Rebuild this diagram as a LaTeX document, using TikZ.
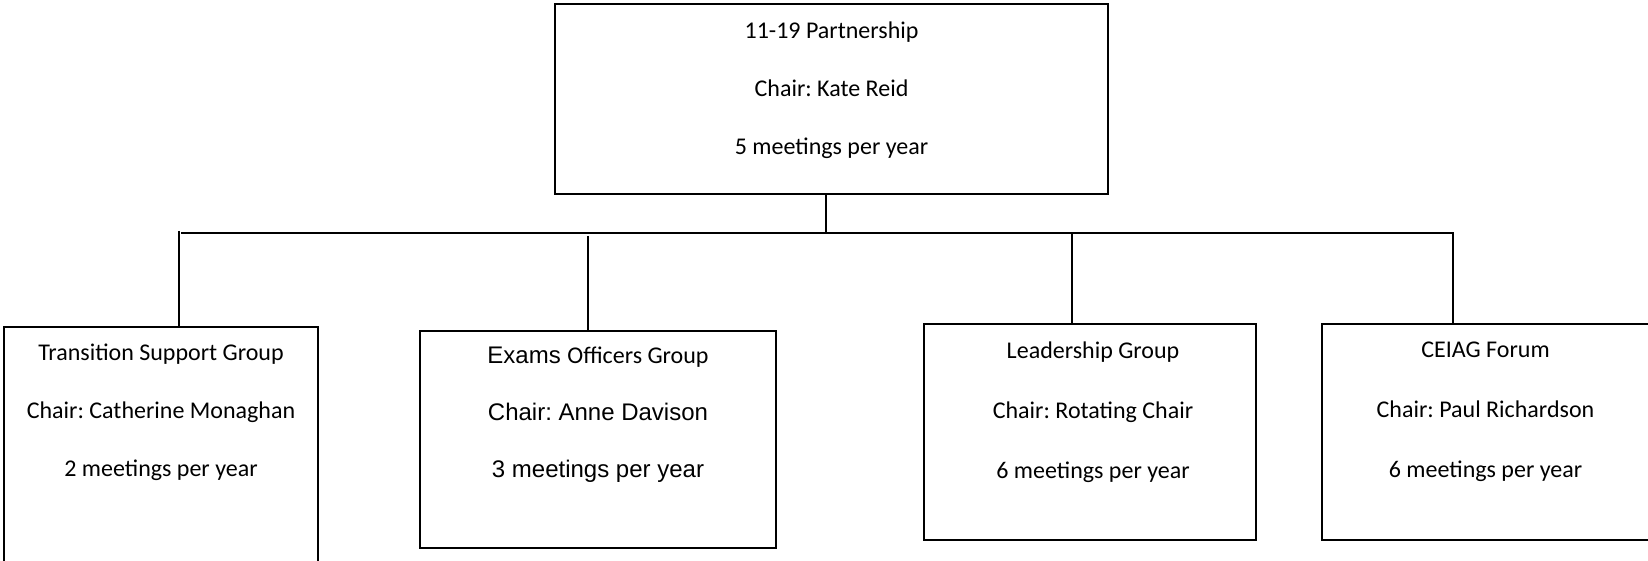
\documentclass[tikz,border=0pt]{standalone}
\usepackage{fontspec}
\setmainfont{Carlito}
\newfontfamily\arialfont{Liberation Sans}
\usetikzlibrary{positioning}
\frenchspacing
\tikzset{box/.style={draw, line width=2pt, inner sep=0pt, anchor=north west},
lbl/.style={align=center, inner sep=0pt, font=\fontsize{24}{58}\selectfont}}
\begin{document}
\begin{tikzpicture}[x=1pt,y=-1pt, line width=2pt]
\useasboundingbox (0,0) rectangle (1648,561);
\clip (0,0) rectangle (1648,561);
% boxes
\node[box, minimum width=553pt, minimum height=190pt] (top) at (554,3) {};
\node[box, minimum width=314pt, minimum height=280pt] (trans) at (3,326) {};
\node[box, minimum width=356pt, minimum height=217pt] (exams) at (419,330) {};
\node[box, minimum width=332pt, minimum height=216pt] (lead) at (923,323) {};
\node[box, minimum width=379pt, minimum height=216pt] (ceiag) at (1321,323) {};
% texts
\node[lbl, below=18pt of top.north] (topT) {11-19 Partnership\\Chair: Kate Reid\\5 meetings per year};
\node[lbl, below=17pt of trans.north] (transT) {Transition Support Group\\Chair: Catherine Monaghan\\2 meetings per year};
\node[lbl, below=16pt of exams.north, font=\arialfont\fontsize{24}{57}\selectfont] (examsT) {Exams {\rmfamily\fontsize{24}{57}\selectfont Officers Group}\\Chair: Anne Davison\\3 meetings per year};
\node[lbl, below=18pt of lead.north, xshift=3pt, font=\fontsize{24}{60}\selectfont] (leadT) {Leadership Group\\Chair: Rotating Chair\\6 meetings per year};
\node[lbl, below=18pt of ceiag.north, xshift=-26pt, font=\fontsize{24}{60}\selectfont] (ceiagT) {CEIAG Forum\\Chair: Paul Richardson\\6 meetings per year};
% connectors
\coordinate (jT) at (826,234);
\coordinate (bL) at (181,233);
\coordinate (bR) at (1453,233);
\coordinate (vTrans) at (179,231);
\coordinate (vExams) at (588,236);
\coordinate (vLead) at (1072,233);
\draw (top.south -| jT) -- (jT);
\draw (bL) -- (bR) -- (bR |- ceiag.north);
\draw (vTrans) -- (vTrans |- trans.north);
\draw (vExams) -- (vExams |- exams.north);
\draw (vLead) -- (vLead |- lead.north);
\end{tikzpicture}
\end{document}
